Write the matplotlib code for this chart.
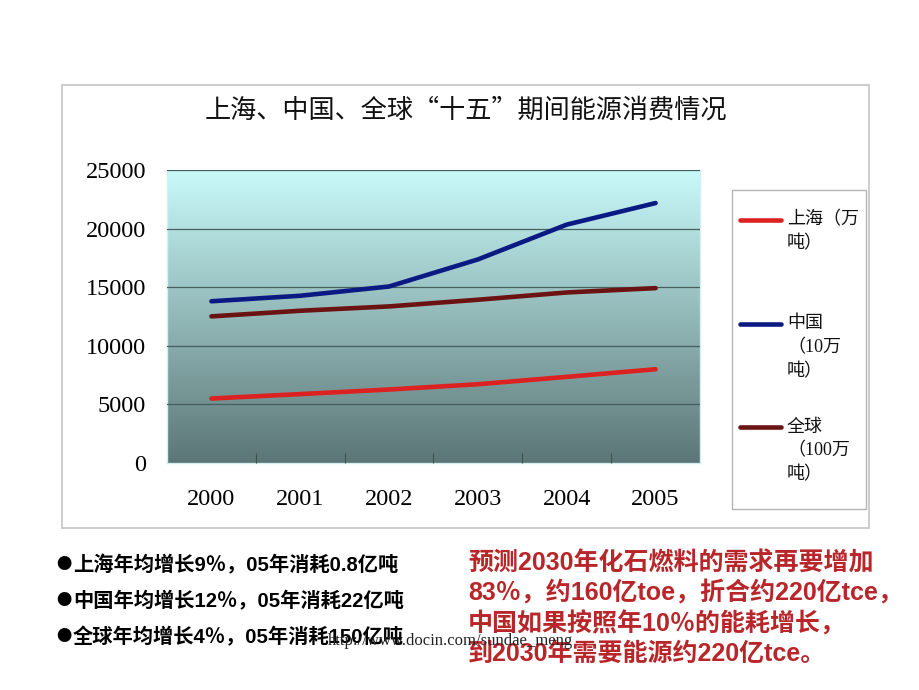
import numpy as np
import matplotlib
matplotlib.use('Agg')
import matplotlib.pyplot as plt
from matplotlib.lines import Line2D
from matplotlib.patches import Rectangle

# ---------------- data ----------------
years = ['2000', '2001', '2002', '2003', '2004', '2005']
shanghai = [5500, 5880, 6270, 6720, 7350, 8000]
china = [13800, 14270, 15060, 17370, 20340, 22180]
world = [12510, 12990, 13360, 13930, 14550, 14920]
series_values = [shanghai, china, world]
series_labels = [['上海（万', '吨）'], ['中国', '（10万', '吨）'], ['全球', '（100万', '吨）']]
series_colors = ['#dc2121', '#0b1a82', '#6b1313']
y_ticks = [0, 5000, 10000, 15000, 20000, 25000]
title = '上海、中国、全球“十五”期间能源消费情况'
bullet_mark = '●'
bullets = ['上海年均增长9％，05年消耗0.8亿吨',
           '中国年均增长12％，05年消耗22亿吨',
           '全球年均增长4％，05年消耗150亿吨']
note_lines = ['预测2030年化石燃料的需求再要增加',
              '83％，约160亿toe，折合约220亿tce，',
              '中国如果按照年10％的能耗增长，',
              '到2030年需要能源约220亿tce。']
watermark = 'http://www.docin.com/sundae_meng'

W, H = 920, 690
def fx(x):
    return x / W
def fy(y):
    return 1 - y / H

CJK = ['Noto Sans CJK SC', 'DejaVu Sans']
SANS_CJK = ['Liberation Sans', 'Noto Sans CJK SC', 'DejaVu Sans']
SERIF_CJK = ['Liberation Serif', 'Noto Sans CJK SC', 'DejaVu Sans']

fig = plt.figure(figsize=(9.2, 6.9), dpi=100)
fig.patch.set_facecolor('white')

# chart frame
fig.patches.append(Rectangle((fx(62), fy(528)), (869 - 62) / W, (528 - 85) / H,
                             transform=fig.transFigure, fill=False,
                             edgecolor='#c4c4c4', lw=1.2, zorder=0))

ax = fig.add_axes([fx(167), fy(463), (700 - 167) / W, (463 - 170) / H])

# gradient background
n = 256
t = np.linspace(0, 1, n)[:, None]
top = np.array([201, 250, 250]) / 255
bot = np.array([92, 118, 118]) / 255
img = (top[None, None, :] * (1 - t[:, :, None]) + bot[None, None, :] * t[:, :, None])
ax.imshow(img, aspect='auto', extent=(0, 1, 0, 1), transform=ax.transAxes,
          zorder=0, origin='upper', interpolation='bilinear')

x = np.arange(len(years))
for vals, col in zip(series_values, series_colors):
    ax.plot(x, vals, color=col, lw=3.3, solid_capstyle='round',
            solid_joinstyle='round', zorder=3)

ax.set_xlim(-0.5, len(years) - 0.5)
ax.set_ylim(0, 25000)
ax.set_yticks(y_ticks)
ax.set_yticklabels([str(v) for v in y_ticks], fontfamily='Liberation Serif', fontsize=17.5)
ax.set_xticks(x)
ax.set_xticklabels(years, fontfamily='Liberation Serif', fontsize=17.5)
ax.set_xticks(x[:-1] + 0.5, minor=True)
ax.tick_params(axis='x', which='major', length=0, pad=19)
ax.tick_params(axis='x', which='minor', direction='in', length=7, color='#3c5252', width=0.8)
ax.tick_params(axis='y', which='major', length=0, pad=15)
ax.grid(axis='y', color='#46605f', lw=0.9, zorder=1)
ax.set_axisbelow(False)
for sp in ax.spines.values():
    sp.set_visible(True)
    sp.set_color('#d6eeee')
    sp.set_linewidth(1.0)

# title
fig.text(fx(466), fy(110), title, ha='center', va='center', fontsize=18.8,
         family=CJK, color='#111111')

# legend box
fig.patches.append(Rectangle((fx(732), fy(509)), (866 - 732) / W, (509 - 190) / H,
                             transform=fig.transFigure, fill=False,
                             edgecolor='#b4b4b4', lw=1.0))
legend_y = [220, 324, 427]
for ly, col, lines in zip(legend_y, series_colors, series_labels):
    fig.add_artist(Line2D([fx(740), fx(781)], [fy(ly), fy(ly)], color=col, lw=3.3,
                          solid_capstyle='round', transform=fig.transFigure))
    for i, s in enumerate(lines):
        fig.text(fx(787), fy(ly + i * 24), s, ha='left', va='center', fontsize=13,
                 family=SERIF_CJK, color='#111111')

# bullet texts
for i, s in enumerate(bullets):
    yy = fy(565 + i * 36)
    fig.text(fx(56), yy, bullet_mark, ha='left', va='center', fontsize=11,
             family=CJK, color='#000000')
    fig.text(fx(73), yy, s, ha='left', va='center', fontsize=14.6,
             family=SANS_CJK, fontweight='bold', color='#000000')

# red notes
for i, s in enumerate(note_lines):
    fig.text(fx(468), fy(563 + i * 30.3), s, ha='left', va='center', fontsize=18,
             family=SANS_CJK, fontweight='bold', color='#b8262a')

# watermark
fig.text(fx(328), fy(645), watermark, ha='left', va='baseline', fontsize=12,
         family='Liberation Serif', color='#222222')

fig.savefig('out.png', dpi=100, facecolor='white')
